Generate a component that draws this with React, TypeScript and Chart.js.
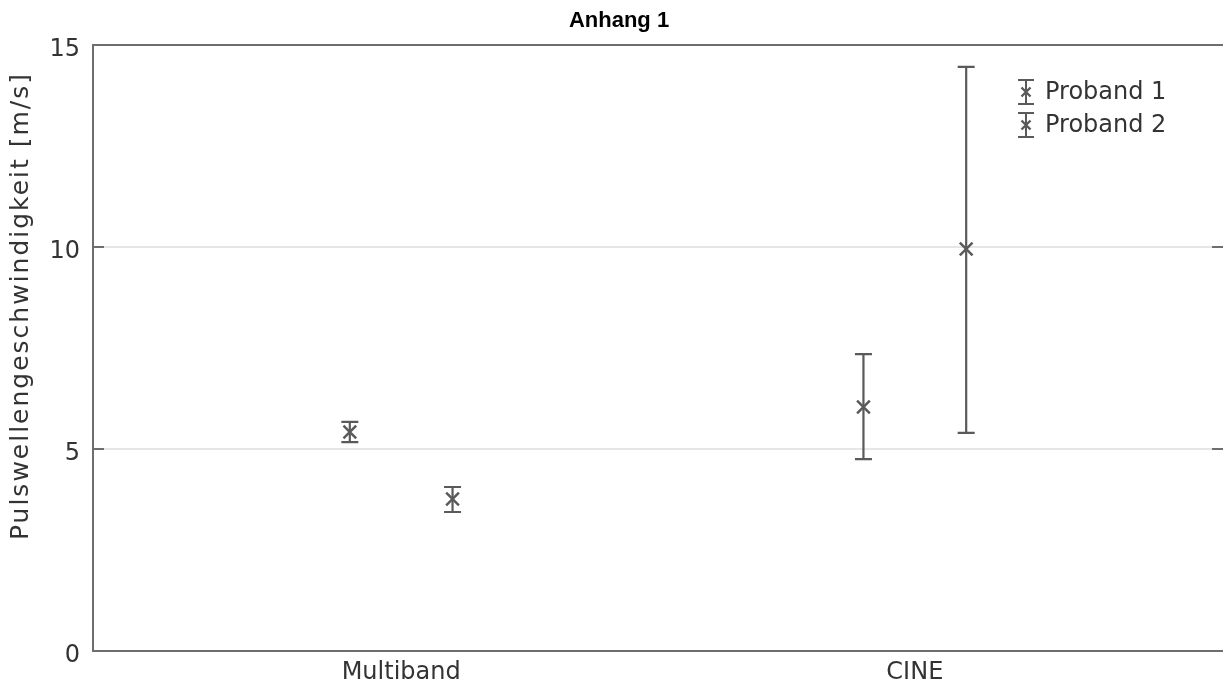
import React, { useEffect, useRef } from "react";
import { Chart, registerables } from "chart.js";

Chart.register(...registerables);

const categories = ["Multiband", "CINE"];
const seriesLabels = ["Proband 1", "Proband 2"];
const proband1Mean = [5.42, 6.04];
const proband1Low = [5.17, 4.75];
const proband1High = [5.67, 7.35];
const proband2Mean = [3.76, 9.95];
const proband2Low = [3.44, 5.4];
const proband2High = [4.06, 14.46];
const yTicks = [0, 5, 10, 15];
const chartTitle = "Anhang 1";
const yTitle = "Pulswellengeschwindigkeit [m/s]";

const MARK = "#5a5a5a";
const AXIS = "#6e6e6e";
const TEXT = "#333333";
const FONT = "'DejaVu Sans', Verdana, sans-serif";

const seriesMeans = [proband1Mean, proband2Mean];
const seriesLows = [proband1Low, proband2Low];
const seriesHighs = [proband1High, proband2High];
const groupShift = [-0.1, 0.1];

function drawCross(ctx: CanvasRenderingContext2D, x: number, y: number, r: number) {
  ctx.beginPath();
  ctx.moveTo(x - r, y - r);
  ctx.lineTo(x + r, y + r);
  ctx.moveTo(x + r, y - r);
  ctx.lineTo(x - r, y + r);
  ctx.stroke();
}

const extrasPlugin = {
  id: "extras",
  beforeDatasetsDraw(chart: any) {
    const { ctx, scales } = chart;
    const xs = scales.x;
    const ys = scales.y;
    ctx.save();
    ctx.strokeStyle = MARK;
    ctx.lineWidth = 2.2;
    chart.data.datasets.forEach((ds: any) => {
      ds.data.forEach((p: any) => {
        const px = xs.getPixelForValue(p.x);
        const pl = ys.getPixelForValue(p.low);
        const ph = ys.getPixelForValue(p.high);
        const cw = 8.5;
        ctx.beginPath();
        ctx.moveTo(px, pl);
        ctx.lineTo(px, ph);
        ctx.moveTo(px - cw, pl);
        ctx.lineTo(px + cw, pl);
        ctx.moveTo(px - cw, ph);
        ctx.lineTo(px + cw, ph);
        ctx.stroke();
      });
    });
    ctx.restore();
  },
  afterDraw(chart: any) {
    const { ctx, chartArea, scales } = chart;
    const ys = scales.y;
    ctx.save();
    // top border
    ctx.strokeStyle = AXIS;
    ctx.lineWidth = 2;
    ctx.beginPath();
    ctx.moveTo(chartArea.left, chartArea.top);
    ctx.lineTo(chartArea.right, chartArea.top);
    ctx.stroke();
    // inward ticks left and right
    yTicks.forEach((v) => {
      if (v === 0 || v === 15) return;
      const py = ys.getPixelForValue(v);
      ctx.beginPath();
      ctx.moveTo(chartArea.left, py);
      ctx.lineTo(chartArea.left + 11, py);
      ctx.moveTo(chartArea.right, py);
      ctx.lineTo(chartArea.right - 11, py);
      ctx.stroke();
    });
    // title
    ctx.fillStyle = "#000";
    ctx.font = "bold 22px 'Liberation Sans', Arial, sans-serif";
    ctx.textAlign = "center";
    ctx.textBaseline = "middle";
    ctx.fillText(chartTitle, 619, 21);
    // y title
    ctx.save();
    ctx.translate(21, 306);
    ctx.rotate(-Math.PI / 2);
    ctx.fillStyle = TEXT;
    ctx.font = `25px ${FONT}`;
    (ctx as any).letterSpacing = "2px";
    ctx.fillText(yTitle, 0, 0);
    ctx.restore();
    // legend
    const lx = 1026;
    const ly0 = 92;
    const step = 33;
    chart.data.datasets.forEach((ds: any, i: number) => {
      const cy = ly0 + i * step;
      ctx.strokeStyle = MARK;
      ctx.lineWidth = 2;
      ctx.beginPath();
      ctx.moveTo(lx, cy - 12);
      ctx.lineTo(lx, cy + 12);
      ctx.moveTo(lx - 8, cy - 12);
      ctx.lineTo(lx + 8, cy - 12);
      ctx.moveTo(lx - 8, cy + 12);
      ctx.lineTo(lx + 8, cy + 12);
      ctx.stroke();
      ctx.lineWidth = 2.4;
      drawCross(ctx, lx, cy, 4.5);
      ctx.fillStyle = TEXT;
      ctx.font = `24px ${FONT}`;
      ctx.textAlign = "left";
      ctx.textBaseline = "middle";
      ctx.fillText(ds.label, 1045, cy + 1);
    });
    ctx.restore();
  },
};

export default function App() {
  const ref = useRef<HTMLCanvasElement | null>(null);
  useEffect(() => {
    if (!ref.current) return;
    const datasets = seriesLabels.map((label, s) => ({
      label,
      data: categories.map((_, c) => ({
        x: c + 1 + groupShift[s],
        y: seriesMeans[s][c],
        low: seriesLows[s][c],
        high: seriesHighs[s][c],
      })),
      pointStyle: "crossRot" as const,
      pointRadius: 9,
      pointBorderWidth: 2.5,
      borderColor: MARK,
      backgroundColor: MARK,
      showLine: false,
    }));
    const chart = new Chart(ref.current, {
      type: "scatter",
      data: { datasets },
      plugins: [extrasPlugin],
      options: {
        responsive: false,
        animation: false,
        layout: { autoPadding: false, padding: { top: 45, left: 0, right: 0, bottom: 0 } },
        plugins: {
          legend: { display: false },
          title: { display: false },
          tooltip: { enabled: false },
        },
        scales: {
          x: {
            type: "linear",
            min: 0.4,
            max: 2.6,
            afterBuildTicks: (scale: any) => {
              scale.ticks = categories.map((_, i) => ({ value: i + 1 }));
            },
            afterFit: (scale: any) => {
              scale.height = 36;
              scale.paddingLeft = 0;
              scale.paddingRight = 0;
            },
            ticks: {
              autoSkip: false,
              maxRotation: 0,
              padding: 7,
              color: TEXT,
              font: { family: FONT, size: 24 },
              callback: (v: any) => categories[Math.round(Number(v)) - 1] ?? "",
            },
            grid: { display: false, drawTicks: false },
            border: { display: true, color: AXIS, width: 2 },
          },
          y: {
            min: 0,
            max: 15,
            afterBuildTicks: (scale: any) => {
              scale.ticks = yTicks.map((v) => ({ value: v }));
            },
            afterFit: (scale: any) => {
              scale.width = 93;
              scale.paddingTop = 0;
              scale.paddingBottom = 0;
            },
            ticks: {
              padding: 13,
              labelOffset: 5,
              color: TEXT,
              font: { family: FONT, size: 24 },
            },
            grid: {
              drawTicks: false,
              color: (c: any) =>
                c.tick && (c.tick.value === 0 || c.tick.value === 15) ? "rgba(0,0,0,0)" : "#e6e6e6",
              lineWidth: 2,
            },
            border: { display: true, color: AXIS, width: 2 },
          },
        },
      },
    });
    return () => chart.destroy();
  }, []);
  return (
    <div style={{ position: "fixed", left: 0, top: 0, width: 1223, height: 687, background: "#fff" }}>
      <canvas ref={ref} width={1223} height={687} style={{ width: 1223, height: 687 }} />
    </div>
  );
}
